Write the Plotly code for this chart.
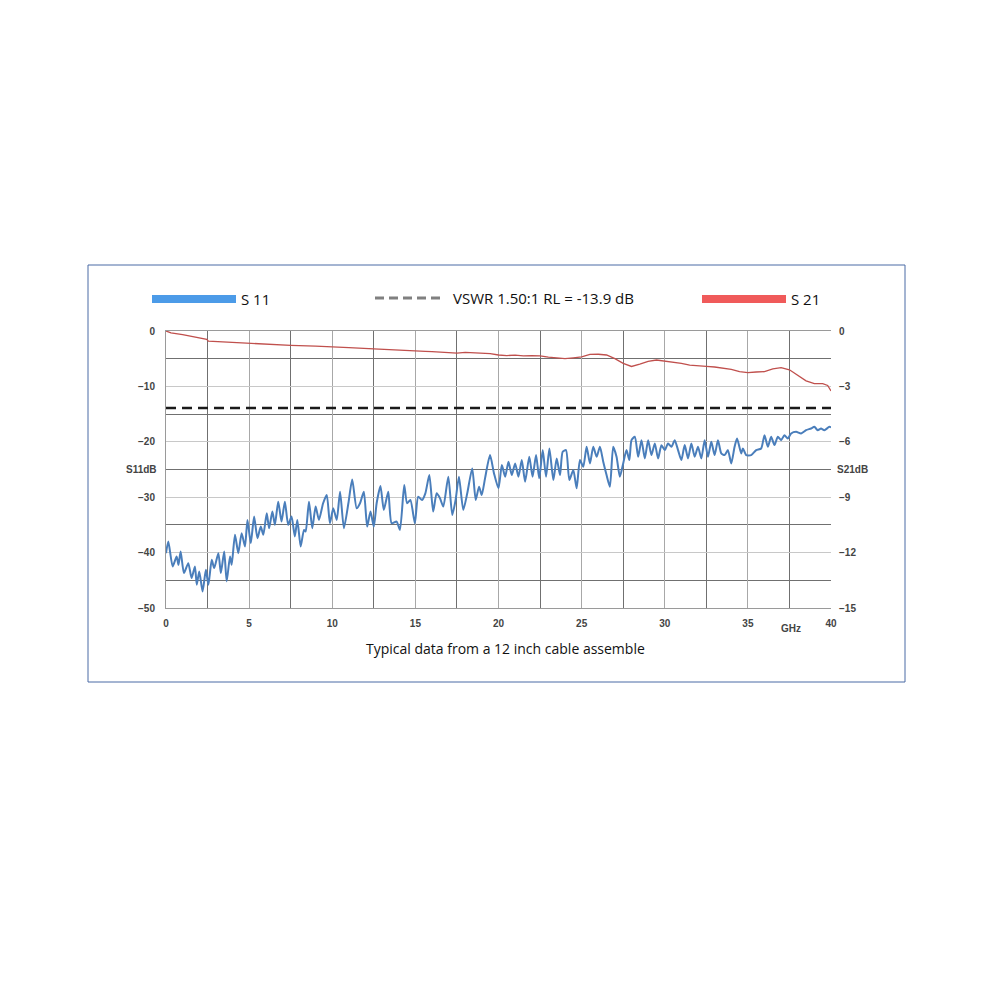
import plotly.graph_objects as go

# ---------------- data ----------------
s11_ghz = [0.0, 0.14, 0.4, 0.64, 0.75, 0.88, 1.08, 1.34, 1.54, 1.74, 1.85, 2.0, 2.2, 2.4, 2.55, 2.75, 2.9,
           3.15, 3.3, 3.5, 3.65, 3.85, 3.95, 4.15, 4.35, 4.55, 4.75, 4.9, 5.1, 5.3, 5.5, 5.7, 5.85, 6.06,
           6.2, 6.4, 6.55, 6.75, 6.95, 7.15, 7.35, 7.55, 7.75, 7.9, 8.1, 8.3, 8.4, 8.6, 8.8, 9.0, 9.2,
           9.45, 9.67, 9.86, 10.06, 10.27, 10.47, 10.7, 10.97, 11.2, 11.47, 11.67, 11.9, 12.1, 12.3,
           12.5, 12.67, 12.9, 13.1, 13.37, 13.57, 13.87, 14.07, 14.33, 14.5, 14.7, 14.97, 15.17, 15.4,
           15.6, 15.84, 16.07, 16.28, 16.48, 16.68, 16.98, 17.22, 17.42, 17.62, 17.88, 18.12, 18.42,
           18.63, 18.83, 18.99, 19.19, 19.49, 19.73, 20.0, 20.2, 20.4, 20.6, 20.8, 21.0, 21.2, 21.4,
           21.6, 21.85, 22.05, 22.26, 22.45, 22.66, 22.86, 23.06, 23.3, 23.5, 23.7, 23.86, 24.06, 24.26,
           24.5, 24.7, 24.9, 25.1, 25.3, 25.5, 25.7, 25.9, 26.1, 26.3, 26.5, 26.7, 26.9, 27.1, 27.3,
           27.5, 27.7, 27.87, 28.0, 28.2, 28.4, 28.6, 28.8, 29.0, 29.2, 29.4, 29.6, 29.8, 30.0, 30.2,
           30.4, 30.6, 30.8, 31.0, 31.2, 31.4, 31.6, 31.8, 32.0, 32.2, 32.4, 32.6, 32.8, 33.0, 33.2,
           33.4, 33.6, 33.8, 34.0, 34.2, 34.35, 34.6, 34.7, 34.9, 35.2, 35.5, 35.8, 36.0, 36.2, 36.4,
           36.6, 36.8, 37.0, 37.2, 37.4, 37.6, 37.9, 38.2, 38.5, 38.8, 39.0, 39.2, 39.4, 39.6, 39.9, 40.0]
s11_db = [-40.1, -38.0, -42.5, -40.7, -42.2, -39.8, -43.7, -41.9, -44.6, -42.5, -45.8, -43.4, -47.0, -43.1,
          -45.8, -41.3, -42.8, -40.1, -43.7, -39.8, -45.2, -40.7, -42.2, -36.8, -40.1, -36.5, -38.9,
          -34.1, -38.3, -33.5, -37.4, -35.3, -36.8, -32.9, -35.6, -32.6, -35.0, -30.8, -34.4, -30.8,
          -35.0, -33.5, -37.1, -34.1, -38.9, -35.9, -36.2, -30.8, -35.6, -31.7, -34.1, -31.1, -29.6,
          -34.7, -32.0, -34.1, -29.0, -35.6, -31.1, -26.8, -32.0, -31.1, -29.0, -35.3, -32.6, -35.3,
          -31.1, -28.0, -32.3, -29.0, -34.7, -34.4, -35.9, -27.8, -31.1, -30.5, -34.7, -29.9, -30.5,
          -29.3, -26.0, -32.6, -29.3, -30.2, -31.7, -26.3, -33.2, -30.5, -26.3, -32.3, -29.3, -24.8,
          -30.5, -28.1, -29.6, -26.6, -22.4, -25.7, -28.4, -24.2, -26.3, -23.6, -26.0, -23.9, -26.3,
          -23.3, -27.2, -22.7, -26.3, -22.4, -26.6, -21.5, -26.3, -21.2, -26.9, -23.0, -26.0, -21.8,
          -21.5, -26.9, -25.1, -28.4, -23.3, -24.5, -20.9, -23.9, -20.9, -22.7, -20.9, -23.6, -26.0,
          -28.1, -20.9, -22.7, -26.3, -23.9, -21.5, -23.3, -19.7, -19.1, -22.7, -19.7, -23.0, -19.7,
          -22.4, -20.3, -23.0, -20.6, -21.5, -20.3, -20.9, -19.7, -21.5, -23.3, -20.6, -23.0, -20.3,
          -22.7, -20.9, -23.0, -19.7, -22.7, -20.0, -22.4, -19.7, -22.1, -22.4, -21.5, -23.9, -20.9,
          -19.4, -22.1, -21.2, -22.4, -22.4, -21.5, -21.2, -18.8, -20.9, -19.1, -20.6, -19.1, -19.7,
          -18.8, -19.4, -18.5, -18.2, -18.5, -17.9, -17.6, -17.3, -17.9, -17.6, -17.9, -17.3, -17.4]

s21_ghz = [0, 0.3, 1.0, 2.0, 2.45, 2.55, 3.2, 4.0, 5.0, 6.0, 7.5, 9.0, 10.0, 11.0, 12.5, 13.5, 14.5, 15.0,
           15.6, 16.0, 16.5, 17.0, 17.5, 18.0, 18.5, 19.0, 19.5, 20.0, 20.5, 21.0, 21.5, 22.0, 22.5,
           23.0, 23.5, 24.0, 24.5, 25.0, 25.5, 26.0, 26.5, 27.0, 27.5, 28.0, 28.5, 29.0, 29.5, 30.0,
           30.5, 31.0, 31.5, 32.0, 32.5, 33.0, 33.5, 34.0, 34.5, 35.0, 35.5, 36.0, 36.5, 37.0, 37.5,
           38.0, 38.5, 39.0, 39.5, 39.8, 40.0]
s21_db = [0.0, -0.1, -0.2, -0.35, -0.45, -0.55, -0.58, -0.62, -0.68, -0.72, -0.78, -0.82, -0.85, -0.9,
          -0.97, -1.0, -1.05, -1.08, -1.1, -1.12, -1.15, -1.17, -1.2, -1.16, -1.18, -1.2, -1.22, -1.3,
          -1.33, -1.31, -1.35, -1.33, -1.35, -1.42, -1.48, -1.5, -1.45, -1.4, -1.27, -1.26, -1.3, -1.5,
          -1.75, -1.92, -1.8, -1.65, -1.57, -1.62, -1.7, -1.75, -1.85, -1.9, -1.92, -1.95, -2.0, -2.08,
          -2.2, -2.25, -2.22, -2.2, -2.05, -1.98, -2.1, -2.4, -2.7, -2.85, -2.85, -2.95, -3.25]

vswr_ghz = [0, 40]
vswr_db = [-13.9, -13.9]

x_ticks = [0, 5, 10, 15, 20, 25, 30, 35, 40]
s11_ticks = [0, -10, -20, -30, -40, -50]
s21_ticks = [0, -3, -6, -9, -12, -15]

legend_names = ["S 11", "VSWR 1.50:1 RL = -13.9 dB", "S 21"]
caption = "Typical data from a 12 inch cable assemble"

# ---------------- layout helpers (pixel -> paper) ----------------
L, R, T, B = 166, 831, 331, 608
OFF = 8  # page body margin


def px(x):
    return (x - L) / (R - L)


def py(y):
    return (B - y) / (B - T)


fig = go.Figure()

fig.add_trace(go.Scatter(x=vswr_ghz, y=vswr_db, mode="lines", yaxis="y",
                         line=dict(color="#1a1a1a", width=2.5, dash="10px,6px"),
                         showlegend=False, hoverinfo="skip"))
fig.add_trace(go.Scatter(x=s21_ghz, y=s21_db, mode="lines", yaxis="y2", name="S 21",
                         line=dict(color="#c0504d", width=1.3), showlegend=False))
fig.add_trace(go.Scatter(x=s11_ghz, y=s11_db, mode="lines", yaxis="y", name="S 11",
                         line=dict(color="#4a7ebb", width=2, shape="spline", smoothing=0.6),
                         showlegend=False))

tickfont = dict(family="Liberation Sans, Arial", size=10, color="#444444", weight="bold")

fig.update_layout(
    width=1000, height=1000,
    margin=dict(l=L - OFF, r=1000 - R + OFF, t=T - OFF, b=1000 - B + OFF),
    paper_bgcolor="white", plot_bgcolor="white",
    xaxis=dict(range=[0, 40], tickvals=x_ticks, showgrid=True, gridcolor="#a8a8a8", gridwidth=1,
               minor=dict(tick0=2.5, dtick=5, showgrid=True, gridcolor="#707070", gridwidth=1.2),
               showline=True, linecolor="#9a9a9a", linewidth=1, mirror=True, zeroline=False,
               tickfont=tickfont, ticks="", ticklabelstandoff=6),
    yaxis=dict(range=[-50, 0], tickvals=s11_ticks, showgrid=True, gridcolor="#c8c8c8", gridwidth=1,
               minor=dict(tick0=-5, dtick=10, showgrid=True, gridcolor="#707070", gridwidth=1.2),
               showline=True, linecolor="#9a9a9a", linewidth=1, zeroline=False,
               tickfont=tickfont, ticks="", ticklabelstandoff=8),
    yaxis2=dict(range=[-15, 0], tickvals=s21_ticks, overlaying="y", side="right", showgrid=False,
                showline=False, zeroline=False, tickfont=tickfont, ticks="", ticklabelstandoff=7),
)

shapes = []
# outer frame
shapes.append(dict(type="rect", xref="paper", yref="paper", x0=px(88), x1=px(905), y0=py(265), y1=py(682),
                   line=dict(color="#4a6aa5", width=1), fillcolor="rgba(0,0,0,0)", layer="below"))
# legend symbols
shapes.append(dict(type="line", xref="paper", yref="paper", x0=px(152), x1=px(236), y0=py(299), y1=py(299),
                   line=dict(color="#4c9be8", width=8)))
shapes.append(dict(type="line", xref="paper", yref="paper", x0=px(375), x1=px(443), y0=py(298), y1=py(298),
                   line=dict(color="#808080", width=3, dash="9px,5px")))
shapes.append(dict(type="line", xref="paper", yref="paper", x0=px(702), x1=px(786), y0=py(299), y1=py(299),
                   line=dict(color="#f05a5a", width=8)))
fig.update_layout(shapes=shapes)

txt = dict(family="Open Sans, Noto Sans", size=15, color="#111111")
ann = []
ann.append(dict(x=px(239), y=py(299), xref="paper", yref="paper", text=legend_names[0], showarrow=False,
                xanchor="left", yanchor="middle", font=txt))
ann.append(dict(x=px(451), y=py(298), xref="paper", yref="paper", text=legend_names[1], showarrow=False,
                xanchor="left", yanchor="middle", font=txt))
ann.append(dict(x=px(789), y=py(299), xref="paper", yref="paper", text=legend_names[2], showarrow=False,
                xanchor="left", yanchor="middle", font=txt))
ann.append(dict(x=px(505), y=py(648), xref="paper", yref="paper", text=caption, showarrow=False,
                xanchor="center", yanchor="middle", font=dict(family="Open Sans, Noto Sans", size=14, color="#111111")))
ann.append(dict(x=px(141), y=py(469), xref="paper", yref="paper", text="S11dB", showarrow=False,
                xanchor="center", yanchor="middle", font=tickfont))
ann.append(dict(x=px(852), y=py(469), xref="paper", yref="paper", text="S21dB", showarrow=False,
                xanchor="center", yanchor="middle", font=tickfont))
ann.append(dict(x=px(791), y=py(628), xref="paper", yref="paper", text="GHz", showarrow=False,
                xanchor="center", yanchor="middle", font=tickfont))
fig.update_layout(annotations=ann)

fig.write_html("out.html")
